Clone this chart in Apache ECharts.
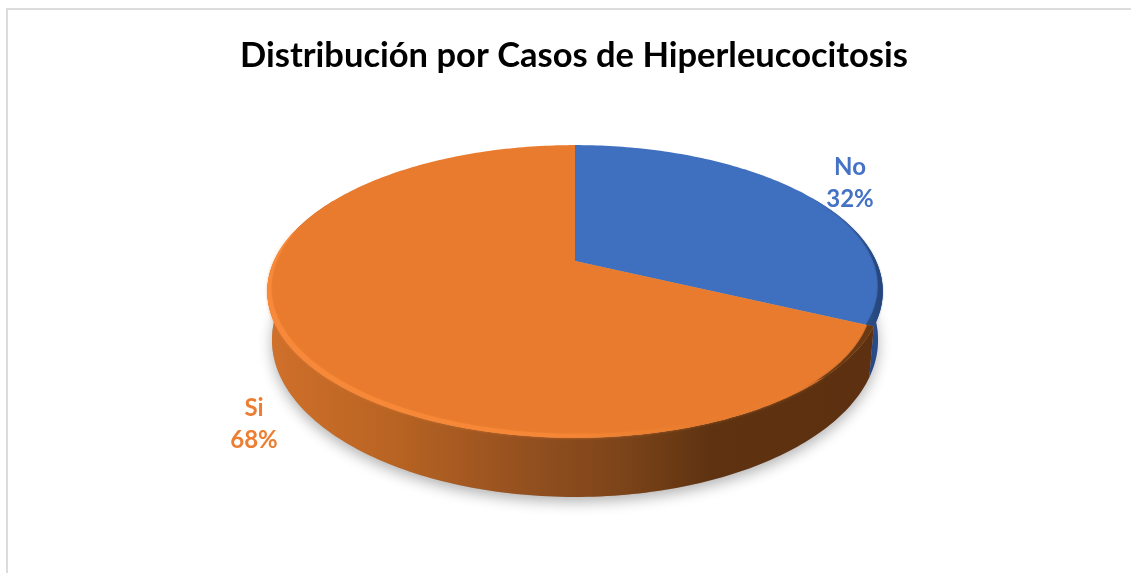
<!DOCTYPE html>
<html><head><meta charset="utf-8">
<style>html,body{margin:0;padding:0;background:#fff}#c{width:1131px;height:573px}</style>
<script src="https://cdn.jsdelivr.net/npm/echarts@6/dist/echarts.min.js"></script>
</head><body><div id="c"></div>
<script>
var titleText = 'Distribución por Casos de Hiperleucocitosis';
var categories = ['No', 'Si'];
var seriesValues = [32, 68];

var palette = ['#4472C4', '#ED7D31'];
var cx = 575, cy = 261, R = 301, B = 140, K = 0.208;
var baseY = 307.3, baseR = 296.4, baseB = 150.2;
var labelAt = [[850, 183], [254, 424]];
var total = seriesValues.reduce(function (a, b) { return a + b; }, 0);

function pt(deg, rs) {
  var t = deg * Math.PI / 180, u = Math.sin(t), v = -Math.cos(t), d = 1 - K * v * rs;
  return [cx + R * rs * u / d, cy + B * rs * v / d];
}
function basePt(deg) {
  var t = deg * Math.PI / 180, u = Math.sin(t), v = -Math.cos(t), d = 1 - K * v;
  return [cx + baseR * u / d, baseY + baseB * v / d];
}
function sweep(a, b, fn) {
  var out = [], n = Math.max(2, Math.ceil(Math.abs(b - a)));
  for (var i = 0; i <= n; i++) out.push(fn(a + (b - a) * i / n));
  return out;
}
function arc(a, b) { return sweep(a, b, function (d) { return pt(d, 1); }); }
function grad(x, x2, stops) {
  return { type: 'linear', x: x, y: 0, x2: x2, y2: 0, global: true,
    colorStops: stops.map(function (s) { return { offset: s[0], color: s[1] }; }) };
}
// band along the outer edge; width follows shape(f), f running 0..1 from a to b
function band(a, b, w, shape) {
  var outer = arc(a, b), inner = [], n = outer.length - 1;
  for (var i = n; i >= 0; i--) {
    var f = i / n;
    inner.push(pt(a + (b - a) * f, 1 - w * shape(f)));
  }
  return outer.concat(inner);
}
function bump(f) { return Math.pow(Math.sin(Math.PI * f), 0.6); }
function rising(f) { return f * f; }
function falling(f) { return (1 - f) * (1 - f); }
var wallFill = [
  grad(800, 885, [[0, '#1f3b6e'], [0.6, '#203f78'], [1, '#2b4f90']]),
  grad(268, 880, [[0, '#d0702b'], [0.2, '#b96423'], [0.42, '#94501f'], [0.58, '#7c4419'], [0.72, '#5f3311'], [1, '#5c3010']])
];

function renderSlice(params, api) {
  var i = params.dataIndex, start = 0;
  for (var j = 0; j < i; j++) start += seriesValues[j];
  var a = start / total * 360, b = (start + api.value(0)) / total * 360;
  var wa = Math.max(a, 62), wb = Math.min(b, 298);
  var kids = [];
  if (i === 0) {
    kids.push({ type: 'polygon', shape: { points: sweep(0, 360, basePt) },
      style: { fill: '#aaa', shadowColor: 'rgba(0,0,0,0.3)', shadowBlur: 14, shadowOffsetY: 5 } });
  }
  kids.push({ type: 'polygon', shape: { points: arc(wa, wb).concat(sweep(wb, wa, basePt)) },
    style: { fill: wallFill[i] } });
  kids.push({ type: 'polygon', shape: { points: [[cx, cy]].concat(arc(a, b)) },
    style: { fill: i === 0 ? '#3F6FBF' : '#E97B2E' } });
  if (i === 0) {
    kids.push({ type: 'polygon', shape: { points: band(b - 70, b, 0.024, rising) },
      style: { fill: grad(760, 885, [[0, '#3F6FBF'], [0.6, '#34609f'], [1, '#24447a']]), shadowColor: 'rgba(30,60,110,0.5)', shadowBlur: 2 } });
  } else {
    kids.push({ type: 'polygon', shape: { points: band(a, a + 40, 0.02, falling) },
      style: { fill: '#6a3a14', shadowColor: 'rgba(90,50,20,0.5)', shadowBlur: 2 } });
    kids.push({ type: 'polygon', shape: { points: band(135, 284, 0.02, bump) },
      style: { fill: grad(270, 700, [[0, '#F8893A'], [0.65, '#F58736'], [1, '#E97B2E']]),
        shadowColor: 'rgba(240,130,50,0.6)', shadowBlur: 3 } });
  }
  var pct = Math.round(api.value(0) / total * 100) + '%';
  var font = 'bold 24px Lato, sans-serif';
  kids.push({ type: 'text', x: labelAt[i][0], y: labelAt[i][1] - 16,
    style: { text: categories[i], fill: palette[i], font: font, align: 'center', verticalAlign: 'middle' } });
  kids.push({ type: 'text', x: labelAt[i][0], y: labelAt[i][1] + 16,
    style: { text: pct, fill: palette[i], font: font, align: 'center', verticalAlign: 'middle' } });
  return { type: 'group', children: kids };
}

var chart = echarts.init(document.getElementById('c'), null, { renderer: 'canvas' });
chart.setOption({
  animation: false,
  backgroundColor: '#ffffff',
  title: { text: titleText, left: 569, top: 33, textAlign: 'center',
    textStyle: { fontFamily: 'Lato, sans-serif', fontWeight: 'bold', fontSize: 34.5, color: '#000' } },
  graphic: [{ type: 'rect', z: -1, shape: { x: 7, y: 9, width: 1300, height: 800 },
    style: { fill: '#fff', stroke: '#dcdcdc', lineWidth: 2 } }],
  series: [{
    type: 'custom', coordinateSystem: 'none', renderItem: renderSlice,
    data: seriesValues.map(function (v, i) { return { name: categories[i], value: [v] }; })
  }]
});
</script></body></html>
